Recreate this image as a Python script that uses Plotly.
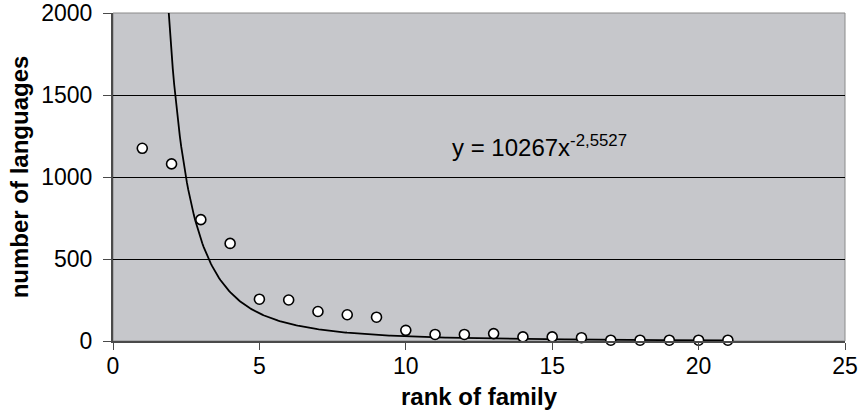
import numpy as np
import plotly.graph_objects as go

# Rank of language family vs. number of languages in that family
rank = [1, 2, 3, 4, 5, 6, 7, 8, 9, 10, 11, 12, 13, 14, 15, 16, 17, 18, 19, 20, 21]
languages = [1175, 1080, 740, 595, 255, 250, 180, 160, 145, 65,
             40, 40, 45, 25, 25, 20, 5, 5, 5, 5, 5]

# Power-law trendline y = a * x^b
coef_a = 10267
coef_b = -2.5527
trend_x = np.linspace(1.85, 21, 400)
trend_y = coef_a * trend_x ** coef_b

FONT = "Liberation Sans, Arial, Helvetica, sans-serif"

fig = go.Figure()
fig.add_trace(go.Scatter(
    x=trend_x, y=trend_y, mode="lines",
    line=dict(color="black", width=1.8),
    hoverinfo="skip", showlegend=False,
))
fig.add_trace(go.Scatter(
    x=rank, y=languages, mode="markers",
    marker=dict(size=10, color="white", line=dict(color="black", width=1.6)),
    showlegend=False, cliponaxis=False,
))

fig.add_annotation(
    x=11.5, y=1085, xref="x", yref="y", xanchor="left", yanchor="bottom",
    text="y = 10267x<sup>-2,5527</sup>", showarrow=False,
    font=dict(family=FONT, size=24, color="black"),
)

# plot-area border
fig.add_shape(type="rect", xref="paper", yref="paper", x0=0, y0=0, x1=1, y1=1,
              line=dict(color="#8a8a8a", width=1), layer="below")

fig.update_layout(
    width=862, height=413,
    margin=dict(l=113, r=17, t=13, b=72),
    paper_bgcolor="white",
    plot_bgcolor="#c6c7cb",
    font=dict(family=FONT, size=22, color="black"),
)
fig.update_xaxes(
    range=[0, 25], tickvals=[0, 5, 10, 15, 20, 25],
    showgrid=False, zeroline=False, automargin=False,
    showline=True, linecolor="#4a4a4a", linewidth=2,
    ticks="outside", ticklen=7, tickcolor="#4a4a4a", tickwidth=1,
    ticklabelstandoff=-4,
    tickfont=dict(size=23),
    title=dict(text="<b>rank of family</b>", font=dict(size=24), standoff=11),
)
fig.update_yaxes(
    range=[0, 2000], tickvals=[0, 500, 1000, 1500, 2000],
    showgrid=True, gridcolor="black", gridwidth=1,
    zeroline=False, automargin=False,
    showline=True, linecolor="#4a4a4a", linewidth=2,
    ticks="outside", ticklen=8, tickcolor="#4a4a4a", tickwidth=1,
    ticklabelstandoff=6,
    tickfont=dict(size=23),
    title=dict(text="<b>number of languages</b>", font=dict(size=24), standoff=6),
)

fig.write_html("out.html")
